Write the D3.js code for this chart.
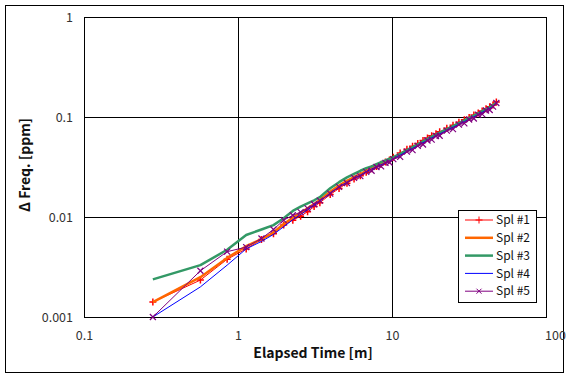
<!DOCTYPE html>
<html>
<head>
<meta charset="utf-8">
<script src="https://cdn.jsdelivr.net/npm/d3@7"></script>
<style>
  body { margin: 0; background: #fff; }
  text { font-family: "Noto Sans CJK KR", "Noto Sans", sans-serif; }
</style>
</head>
<body>
<div id="wrapper"></div>
<script>
// elapsed time [m], shared by all samples
const times = [0.28, 0.57, 0.85, 1.13, 1.42, 1.70, 1.98, 2.27, 2.55, 2.83, 3.12, 3.40,
  3.97, 4.53, 5.10, 5.67, 6.23, 6.80, 7.37, 7.93, 8.50, 9.07, 9.63, 10.2,
  11.3, 12.5, 13.6, 14.7, 15.9, 17.0, 18.1, 19.3, 20.4,
  22.7, 24.9, 27.2, 29.5, 31.7, 34.0, 36.3, 38.5, 40.8, 43.1, 45.3, 47.6];

const spl1 = [0.00141, 0.00234, 0.00378, 0.00480, 0.00595, 0.00680, 0.00830, 0.00930, 0.01020, 0.01130, 0.01270, 0.01390,
  0.0168, 0.0193, 0.0218, 0.0240, 0.0259, 0.0280, 0.0303, 0.0320, 0.0337, 0.0354, 0.0371, 0.0396,
  0.0437, 0.0475, 0.0510, 0.0544, 0.0581, 0.0615, 0.0649, 0.0681, 0.0711,
  0.0771, 0.0828, 0.0886, 0.0940, 0.0990, 0.1045, 0.1095, 0.1150, 0.1208, 0.1264, 0.1318, 0.1410];
const spl2 = [0.00141, 0.0025, 0.0039, 0.0051, 0.0060, 0.0070, 0.0085, 0.0098, 0.0110, 0.0122, 0.0135, 0.0148,
  0.0179, 0.0206, 0.0230, 0.0250, 0.0269, 0.0287, 0.0305, 0.0320, 0.0337, 0.0353, 0.0368, 0.0384,
  0.0419, 0.0457, 0.0490, 0.0522, 0.0559, 0.0591, 0.0623, 0.0655, 0.0683,
  0.0741, 0.0796, 0.0852, 0.0907, 0.0959, 0.1014, 0.1068, 0.1122, 0.1179, 0.1234, 0.1290, 0.1410];
const spl3 = [0.00238, 0.0033, 0.0047, 0.0066, 0.0075, 0.0083, 0.0097, 0.0115, 0.0127, 0.0137, 0.0147, 0.0158,
  0.0194, 0.0223, 0.0249, 0.0270, 0.0290, 0.0308, 0.0321, 0.0337, 0.0353, 0.0369, 0.0384, 0.0396,
  0.0428, 0.0466, 0.0500, 0.0533, 0.0570, 0.0603, 0.0636, 0.0668, 0.0697,
  0.0756, 0.0812, 0.0869, 0.0925, 0.0979, 0.1035, 0.1090, 0.1145, 0.1203, 0.1259, 0.1313, 0.1390];
const spl4 = [0.0010, 0.0020, 0.0033, 0.0048, 0.0057, 0.0067, 0.0080, 0.0094, 0.0106, 0.0118, 0.0130, 0.0143,
  0.0174, 0.0200, 0.0223, 0.0242, 0.0263, 0.0284, 0.0302, 0.0317, 0.0334, 0.0349, 0.0365, 0.0380,
  0.0415, 0.0452, 0.0485, 0.0517, 0.0553, 0.0585, 0.0617, 0.0648, 0.0676,
  0.0733, 0.0788, 0.0843, 0.0897, 0.0950, 0.1004, 0.1057, 0.1111, 0.1167, 0.1221, 0.1274, 0.1350];
const spl5 = [0.0010, 0.0029, 0.0045, 0.0050, 0.0061, 0.0075, 0.0093, 0.0104, 0.0112, 0.0122, 0.0134, 0.0146,
  0.0171, 0.0200, 0.0219, 0.0246, 0.0256, 0.0283, 0.0290, 0.0316, 0.0321, 0.0348, 0.0351, 0.0379,
  0.0399, 0.0450, 0.0466, 0.0515, 0.0531, 0.0582, 0.0593, 0.0645, 0.0650,
  0.0730, 0.0757, 0.0839, 0.0862, 0.0945, 0.0965, 0.1052, 0.1067, 0.1161, 0.1174, 0.1268, 0.1380];

const seriesNames = ["Spl #1", "Spl #2", "Spl #3", "Spl #4", "Spl #5"];
const xTicks = [0.1, 1, 10, 100];
const yTicks = [0.001, 0.01, 0.1, 1];

const seriesData = [spl1, spl2, spl3, spl4, spl5];
const styles = [
  { color: "#ff0000", width: 1, marker: "plus" },
  { color: "#ff6600", width: 2.5, marker: null },
  { color: "#339966", width: 2.5, marker: null },
  { color: "#0000ff", width: 1, marker: null },
  { color: "#800080", width: 1, marker: "cross" }
];
const markerPath = {
  plus: "M-3.5,0H3.5M0,-3.5V3.5",
  cross: "M-3,-3L3,3M-3,3L3,-3"
};

const dimension = {
  width: 571,
  height: 382,
  margin: { top: 17, left: 84, bottom: 65, right: 25 }
};
dimension.boundedWidth = dimension.width - dimension.margin.left - dimension.margin.right;
dimension.boundedHeight = dimension.height - dimension.margin.top - dimension.margin.bottom;

const svg = d3.select("#wrapper").append("svg")
  .attr("width", dimension.width)
  .attr("height", dimension.height);

// outer chart border
svg.append("rect")
  .attr("x", 5.5).attr("y", 5.5)
  .attr("width", 558).attr("height", 367)
  .attr("fill", "#fff").attr("stroke", "#000");

const xScaler = d3.scaleLog().domain([0.1, 100])
  .range([dimension.margin.left, dimension.margin.left + dimension.boundedWidth]);
const yScaler = d3.scaleLog().domain([0.001, 1])
  .range([dimension.margin.top + dimension.boundedHeight, dimension.margin.top]);

const fmt = d => String(d);

// gridlines
const xGrid = svg.append("g")
  .attr("transform", `translate(0,${dimension.margin.top + dimension.boundedHeight})`)
  .call(d3.axisBottom(xScaler).tickValues(xTicks).tickSize(-dimension.boundedHeight).tickFormat(""));
const yGrid = svg.append("g")
  .attr("transform", `translate(${dimension.margin.left},0)`)
  .call(d3.axisLeft(yScaler).tickValues(yTicks).tickSize(-dimension.boundedWidth).tickFormat(""));
[xGrid, yGrid].forEach(g => {
  g.select(".domain").remove();
  g.selectAll("line").attr("stroke", "#000").attr("stroke-width", 1);
});

// plot border
svg.append("rect")
  .attr("x", dimension.margin.left + 0.5).attr("y", dimension.margin.top + 0.5)
  .attr("width", dimension.boundedWidth).attr("height", dimension.boundedHeight)
  .attr("fill", "none").attr("stroke", "#000");

// tick labels
const xAxis = svg.append("g")
  .attr("transform", `translate(0,${dimension.margin.top + dimension.boundedHeight})`)
  .call(d3.axisBottom(xScaler).tickValues(xTicks).tickSize(0).tickPadding(14).tickFormat(fmt));
const yAxis = svg.append("g")
  .attr("transform", `translate(${dimension.margin.left},0)`)
  .call(d3.axisLeft(yScaler).tickValues(yTicks).tickSize(0).tickPadding(11).tickFormat(fmt));
[xAxis, yAxis].forEach(g => {
  g.select(".domain").remove();
  g.selectAll("text").attr("font-size", 12.5).attr("fill", "#333")
    .style("font-family", '"Noto Sans CJK KR", "Noto Sans", sans-serif');
});
xAxis.selectAll(".tick text").filter(d => d === 100).attr("dx", 9);

// series
const line = d3.line()
  .x(d => xScaler(d[0]))
  .y(d => yScaler(d[1]));

seriesData.forEach((vals, i) => {
  const pts = times.map((t, j) => [t, vals[j]]);
  const st = styles[i];
  svg.append("path")
    .datum(pts)
    .attr("d", line)
    .attr("fill", "none")
    .attr("stroke", st.color)
    .attr("stroke-width", st.width)
    .attr("stroke-linejoin", "round");
  if (st.marker) {
    svg.append("g").selectAll("path")
      .data(pts)
      .join("path")
      .attr("transform", d => `translate(${xScaler(d[0])},${yScaler(d[1])})`)
      .attr("d", markerPath[st.marker])
      .attr("stroke", st.color)
      .attr("stroke-width", st.marker === "plus" ? 1.5 : 1.2)
      .attr("fill", "none");
  }
});

// axis titles
svg.append("text")
  .attr("x", 313).attr("y", 358)
  .attr("text-anchor", "middle")
  .attr("font-size", 14).attr("font-weight", "bold").attr("fill", "#111")
  .text("Elapsed Time [m]");
svg.append("text")
  .attr("transform", "translate(30,165) rotate(-90)")
  .attr("text-anchor", "middle")
  .attr("font-size", 14).attr("font-weight", "bold").attr("fill", "#111")
  .text("Δ Freq. [ppm]");

// legend
const legend = svg.append("g");
legend.append("rect")
  .attr("x", 458.5).attr("y", 210.5)
  .attr("width", 78).attr("height", 92)
  .attr("fill", "#fff").attr("stroke", "#000");
seriesNames.forEach((name, i) => {
  const yy = 220 + i * 17.8;
  const st = styles[i];
  legend.append("line")
    .attr("x1", 465).attr("x2", 493).attr("y1", yy).attr("y2", yy)
    .attr("stroke", st.color).attr("stroke-width", st.width);
  if (st.marker) {
    legend.append("path")
      .attr("transform", `translate(479,${yy})`)
      .attr("d", st.marker === "plus" ? markerPath.plus : "M-2.5,-2.5L2.5,2.5M-2.5,2.5L2.5,-2.5")
      .attr("stroke", st.color).attr("fill", "none");
  }
  legend.append("text")
    .attr("x", 496).attr("y", yy).attr("dy", "0.35em")
    .attr("font-size", 12).attr("fill", "#111")
    .text(name);
});
</script>
</body>
</html>
